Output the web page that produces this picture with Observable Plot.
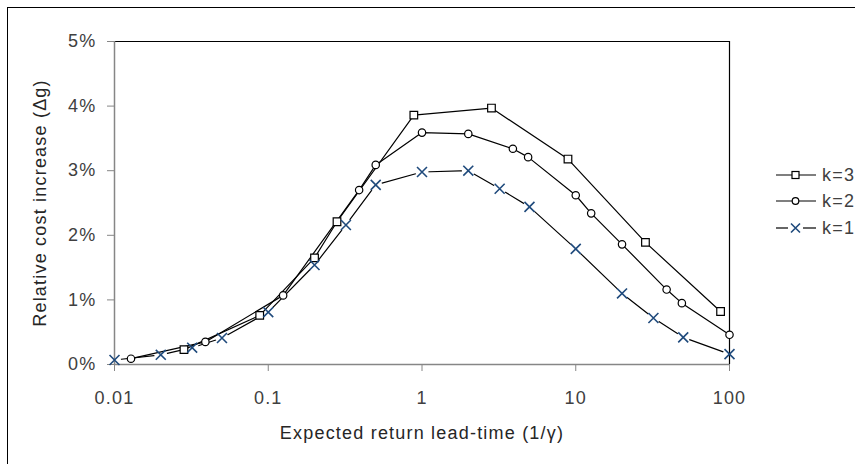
<!DOCTYPE html>
<html><head><meta charset="utf-8">
<script src="https://cdn.jsdelivr.net/npm/d3@7"></script>
<script src="https://cdn.jsdelivr.net/npm/@observablehq/plot@0.6"></script>
<style>
html,body{margin:0;padding:0;background:#fff;overflow:hidden;}
#wrap{position:relative;width:855px;height:464px;font-family:"Liberation Sans",Arial,sans-serif;}
#chart{position:absolute;left:0;top:0;}
#chart svg text{letter-spacing:1.2px;}
#border{position:absolute;left:7px;top:7px;width:1000px;height:1000px;border:1px solid #000;box-sizing:border-box;pointer-events:none;}
.lg-row{position:absolute;left:776px;height:20px;display:flex;align-items:center;font-size:18px;letter-spacing:1.2px;color:#404040;white-space:nowrap;}
.lg-row svg{margin-right:6px;}
</style></head><body>
<div id="wrap"><div id="chart"></div><div id="legend"></div><div id="border"></div></div>
<script>
// ---- data ----
const xTicks = [0.01, 0.1, 1, 10, 100];
const yTicks = [0, 1, 2, 3, 4, 5];
const seriesNames = ["k=3", "k=2", "k=1"];
const xTitle = ["Expected return lead-time (1/γ)"];
const yTitle = ["Relative cost increase (Δg)"];

const k3X = [0.0283, 0.088, 0.2, 0.28, 0.885, 2.83, 8.9, 28.4, 87.5];
const k3Y = [0.23, 0.76, 1.65, 2.21, 3.86, 3.97, 3.18, 1.89, 0.82];

const k2X = [0.0128, 0.039, 0.125, 0.39, 0.5, 1, 2, 3.9, 4.9, 10, 12.6, 20, 39, 49, 100];
const k2Y = [0.09, 0.35, 1.07, 2.70, 3.09, 3.59, 3.57, 3.34, 3.21, 2.62, 2.34, 1.86, 1.16, 0.95, 0.46];

const k1X = [0.01, 0.02, 0.032, 0.05, 0.1, 0.2, 0.32, 0.5, 1, 2, 3.2, 5, 10, 20, 32, 50, 100];
const k1Y = [0.07, 0.15, 0.26, 0.41, 0.81, 1.54, 2.16, 2.78, 2.98, 3.00, 2.72, 2.44, 1.79, 1.10, 0.72, 0.42, 0.16];

const toRows = (xs, ys) => xs.map((x, i) => ({x, y: ys[i]}));
const k3 = toRows(k3X, k3Y), k2 = toRows(k2X, k2Y), k1 = toRows(k1X, k1Y);

const AXIS = "#868686", TXT = "#404040", BLUE = "#1f4a7c";

const chart = Plot.plot({
  width: 855, height: 464,
  marginLeft: 114, marginRight: 126, marginTop: 41, marginBottom: 100,
  style: {fontFamily: '"Liberation Sans", Arial, sans-serif', background: "transparent"},
  x: {type: "log", domain: [0.01, 100]},
  y: {domain: [0, 5]},
  marks: [
    Plot.line(k1, {x: "x", y: "y", stroke: "#000", strokeWidth: 1.2}),
    Plot.dot(k1, {x: "x", y: "y", r: 6.5, fill: "white", stroke: "none"}),
    Plot.ruleY([5], {stroke: "#000", strokeWidth: 1.2}),
    Plot.ruleX([100], {stroke: "#000", strokeWidth: 1.2}),
    Plot.ruleY([0], {stroke: AXIS, strokeWidth: 1.5}),
    Plot.ruleX([0.01], {stroke: AXIS, strokeWidth: 1.5}),
    Plot.axisY({ticks: yTicks, tickFormat: d => d + "%", tickSize: 7, tickPadding: 11, stroke: AXIS, fill: TXT, fontSize: 18, label: null}),
    Plot.axisX({ticks: xTicks, tickFormat: d => String(d), tickSize: 7, tickPadding: 20, stroke: AXIS, fill: TXT, fontSize: 18, label: null}),
    Plot.line(k2, {x: "x", y: "y", stroke: "#000", strokeWidth: 1.2}),
    Plot.line(k3, {x: "x", y: "y", stroke: "#000", strokeWidth: 1.2}),
    Plot.dot(k3, {x: "x", y: "y", symbol: "square", r: 4.3, stroke: "#000", fill: "white", strokeWidth: 1.2}),
    Plot.dot(k2, {x: "x", y: "y", symbol: "circle", r: 3.7, stroke: "#000", fill: "white", strokeWidth: 1.2}),
    Plot.dot(k1, {x: "x", y: "y", symbol: "times", r: 4.6, stroke: BLUE, strokeWidth: 1.6}),
    Plot.text(xTitle, {frameAnchor: "bottom", dy: 74, fontSize: 18, fill: "#262626", textAnchor: "middle"}),
    Plot.text(yTitle, {frameAnchor: "left", dx: -74, rotate: -90, fontSize: 18, fill: "#262626", textAnchor: "middle"})
  ]
});
document.getElementById("chart").appendChild(chart);

// ---- legend ----
const legend = document.getElementById("legend");
const rowTops = [165, 191, 218];
seriesNames.forEach((name, i) => {
  const row = document.createElement("div");
  row.className = "lg-row";
  row.style.top = rowTops[i] + "px";
  let marker;
  if (i === 0) marker = '<line x1="0" y1="7" x2="40" y2="7" stroke="#000" stroke-width="1.2"/><rect x="16" y="3.5" width="7" height="7" fill="#fff" stroke="#000" stroke-width="1.2"/>';
  else if (i === 1) marker = '<line x1="0" y1="7" x2="40" y2="7" stroke="#000" stroke-width="1.2"/><circle cx="19.5" cy="7" r="3.3" fill="#fff" stroke="#000" stroke-width="1.2"/>';
  else marker = '<line x1="0" y1="7" x2="12" y2="7" stroke="#000" stroke-width="1.2"/><line x1="27" y1="7" x2="40" y2="7" stroke="#000" stroke-width="1.2"/><path d="M15,2.5L24,11.5M24,2.5L15,11.5" stroke="' + BLUE + '" stroke-width="1.6"/>';
  row.innerHTML = '<svg width="40" height="14">' + marker + '</svg><span>' + name + '</span>';
  legend.appendChild(row);
});
</script>
</body></html>
